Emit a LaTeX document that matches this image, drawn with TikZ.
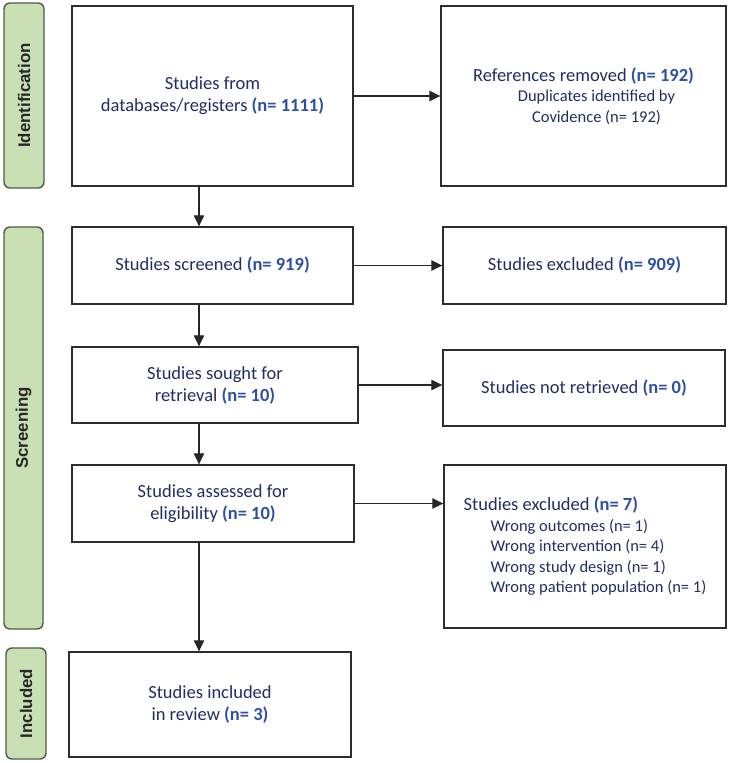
\documentclass[tikz,border=0pt]{standalone}
\usepackage{fontspec}
\setmainfont{Carlito}
\newfontfamily\tabfont{Liberation Sans}
\usetikzlibrary{positioning,arrows.meta}
\definecolor{txtnavy}{RGB}{32,46,100}
\definecolor{nblue}{RGB}{46,80,162}
\definecolor{tabgreen}{RGB}{200,224,180}
\definecolor{tabedge}{RGB}{78,92,70}
\definecolor{boxgray}{RGB}{45,45,45}
\newcommand{\nval}[1]{{\bfseries\color{nblue}(n= #1)}}
\newcommand{\bigfs}{\fontsize{18.5}{22}\selectfont}
\newcommand{\smallfs}{\fontsize{16.5}{20.5}\selectfont}

\begin{document}
\begin{tikzpicture}[x=1pt,y=-1pt,>={Triangle[length=11pt,width=10.5pt]},
    box/.style={draw=boxgray,line width=1.4pt,align=center,text=txtnavy,
      font=\bigfs,inner sep=0pt},
    phase/.style={draw=tabedge,fill=tabgreen,line width=1.4pt,rounded corners=6pt,
      rotate=90,inner sep=0pt,text=black!85,font=\tabfont\bfseries\fontsize{16.8}{19}\selectfont},
    link/.style={->,line width=1.2pt,draw=black!85}]
    \useasboundingbox (0,0) rectangle (729,763);
    % phase tabs
    \node[phase,minimum width=185pt,minimum height=40pt] (idtab) at (24,95.5) {Identification};
    \node[phase,minimum width=402pt,minimum height=39pt] (scrtab) at (23.5,428) {Screening};
    \node[phase,minimum width=111pt,minimum height=40pt] (inctab) at (26,703.5) {Included};
    % main column
    \node[box,minimum width=281pt,minimum height=180pt] (src) at (212.5,96)
      {Studies from\\databases/registers \nval{1111}};
    \node[box,minimum width=281pt,minimum height=77pt] (scr) at (212.5,265.5)
      {Studies screened \nval{919}};
    \node[box,minimum width=286pt,minimum height=76pt] (seek) at (215,385)
      {Studies sought for\\retrieval \nval{10}};
    \node[box,minimum width=282pt,minimum height=77pt] (elig) at (213,503.5)
      {Studies assessed for\\eligibility \nval{10}};
    \node[box,minimum width=282pt,minimum height=105pt] (incl) at (210,704.5)
      {Studies included\\in review \nval{3}};
    % side column
    \node[box,font=\smallfs,minimum width=285pt,minimum height=180pt] (dup) at (583.5,96)
      {{\bigfs References removed \nval{192}}\\
       \hspace*{26pt}Duplicates identified by\\\hspace*{26pt}Covidence (n= 192)};
    \node[box,minimum width=283pt,minimum height=77pt] (excl) at (584.5,265.5)
      {Studies excluded \nval{909}};
    \node[box,minimum width=282pt,minimum height=76pt] (notret) at (584,388)
      {Studies not retrieved \nval{0}};
    \node[box,font=\smallfs,minimum width=282pt,minimum height=163pt,align=left] (drop) at (585,546.5)
      {{\bigfs Studies excluded \nval{7}}\\
       \hspace*{27pt}Wrong outcomes (n= 1)\\
       \hspace*{27pt}Wrong intervention (n= 4)\\
       \hspace*{27pt}Wrong study design (n= 1)\\
       \hspace*{27pt}Wrong patient population (n= 1)};
    % connectors
    \coordinate (spine) at (199,0);
    \draw[link] (src.south -| spine) -- (scr.north -| spine);
    \draw[link] (scr.south -| spine) -- (seek.north -| spine);
    \draw[link] (seek.south -| spine) -- (elig.north -| spine);
    \draw[link] (elig.south -| spine) -- (incl.north -| spine);
    \draw[link] (src) -- (dup);
    \draw[link] (scr) -- (excl);
    \draw[link] (seek.east) -- (seek.east -| notret.west);
    \draw[link] (elig.east) -- (elig.east -| drop.west);
  \end{tikzpicture}
\end{document}
